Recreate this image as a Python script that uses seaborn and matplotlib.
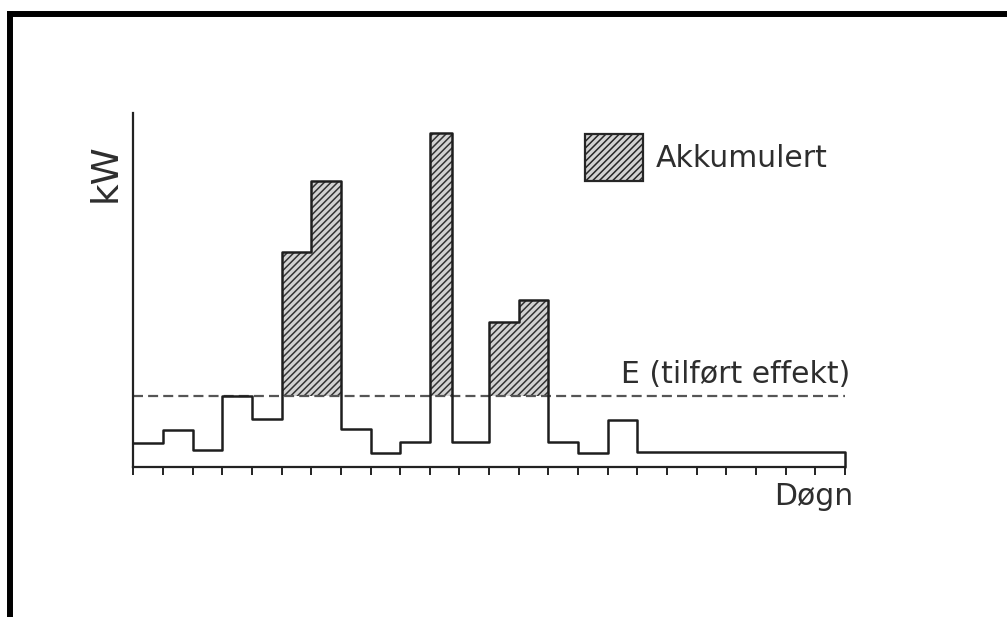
import numpy as np
import matplotlib
matplotlib.use("Agg")
import matplotlib.pyplot as plt
import matplotlib.patches as mpatches
from matplotlib.lines import Line2D
from matplotlib import font_manager as fm
import seaborn as sns
import pandas as pd

# ---- data ----
hour_edges = [0, 1, 2, 3, 4, 5, 6, 7, 8, 9, 10, 10.75, 12, 13, 14, 15, 16, 17, 24]
power_levels = [3.3, 5.2, 2.3, 10.0, 6.8, 30.4, 40.4, 5.3, 2.0, 3.45,
                47.2, 3.45, 20.4, 23.6, 3.45, 2.0, 6.6, 2.1]
supplied_power = 10.0          # E (tilført effekt)
day_ticks = list(range(0, 25))
y_max = 50

legend_label = "Akkumulert"
e_label = "E (tilført effekt)"
x_label = "Døgn"
y_label = "kW"

sns.set_theme(style="white")
plt.rcParams["font.family"] = ["DejaVu Sans"]
plt.rcParams["hatch.linewidth"] = 1.1

W, H = 1007, 617
fig = plt.figure(figsize=(W / 100, H / 100), dpi=100)
fig.patch.set_facecolor("white")
ax = fig.add_axes([133.3 / W, 1 - 466.7 / H, (845 - 133.3) / W, (466.7 - 113) / H])
ax.set_facecolor("white")

# step data
xs = list(hour_edges) + [hour_edges[-1]]
ys = list(power_levels) + [power_levels[-1], 0]
step_df = pd.DataFrame({"hour": xs, "kW": ys})

hatch_face = "#d2d2d2"
hatch_col = "#333333"

# hatched "accumulated" area above E
upper = np.maximum(np.array(list(power_levels) + [power_levels[-1]]), supplied_power)
ax.fill_between(hour_edges, supplied_power, upper, step="post",
                facecolor=hatch_face, edgecolor=hatch_col, hatch="/////",
                linewidth=0, zorder=1)

# dashed supplied-power line
e_df = pd.DataFrame({"hour": [hour_edges[0], hour_edges[-1]],
                     "kW": [supplied_power, supplied_power]})
sns.lineplot(data=e_df, x="hour", y="kW", ax=ax, color="#555555",
             linewidth=1.6, dashes=False, estimator=None, sort=False, zorder=2)
ax.lines[-1].set_dashes((4.5, 2.3))
ax.lines[-1].set_clip_on(False)

# load step curve
sns.lineplot(data=step_df, x="hour", y="kW", ax=ax, color="#1e1e1e",
             linewidth=1.8, drawstyle="steps-post", estimator=None,
             sort=False, zorder=3)
ax.lines[-1].set_clip_on(False)

ax.set_xlim(0, 24)
ax.set_ylim(0, y_max)
ax.set_xticks(day_ticks)
ax.set_xticklabels([])
ax.set_yticks([])
ax.set_xlabel("")
ax.set_ylabel("")
ax.tick_params(axis="x", direction="out", length=5.5, width=1.4,
               colors="#222222", bottom=True)
for s in ["top", "right"]:
    ax.spines[s].set_visible(False)
for s in ["left", "bottom"]:
    ax.spines[s].set_color("#222222")
    ax.spines[s].set_linewidth(1.6)

# legend
handle = mpatches.Patch(facecolor=hatch_face, edgecolor="#262626",
                        hatch="/////", linewidth=1.6)
ax.legend(handles=[handle], labels=[legend_label], loc="upper left",
          bbox_to_anchor=(570 / W, 1 - 119 / H), bbox_transform=fig.transFigure,
          frameon=False, borderpad=0, handlelength=1.94, handleheight=2.05,
          handletextpad=0.43, fontsize=21.5, labelcolor="#2e2e2e")

# texts
txt_color = "#2e2e2e"
fig.text(850 / W, 1 - 383 / H, e_label, ha="right", va="baseline",
         fontsize=21.5, color=txt_color)
fig.text(853 / W, 1 - 505 / H, x_label, ha="right", va="baseline",
         fontsize=21.5, color=txt_color)

kw_family = ["DejaVu Sans"]
kw_size = 27
try:
    fm.findfont(fm.FontProperties(family="Liberation Sans Narrow"),
                fallback_to_default=False)
    kw_family = ["Liberation Sans Narrow", "DejaVu Sans"]
    kw_size = 31
except Exception:
    pass
fig.text(106 / W, 1 - 172.5 / H, y_label, rotation=90, ha="center",
         va="center", fontsize=kw_size, color=txt_color, family=kw_family)

# frame lines of the original scan (top and left)
fig.add_artist(Line2D([7 / W, 1], [1 - 14 / H, 1 - 14 / H],
                      transform=fig.transFigure, color="black", linewidth=4.3,
                      solid_capstyle="butt"))
fig.add_artist(Line2D([10 / W, 10 / W], [0, 1 - 11 / H],
                      transform=fig.transFigure, color="black", linewidth=4.3,
                      solid_capstyle="butt"))

fig.savefig("out.png", dpi=100, facecolor="white")
